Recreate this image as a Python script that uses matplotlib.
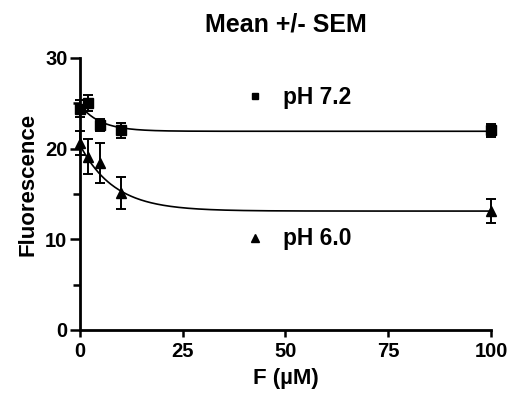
import matplotlib
matplotlib.use("Agg")
import matplotlib.pyplot as plt
import numpy as np
from matplotlib.ticker import MultipleLocator

plt.rcParams['font.family'] = ['Liberation Sans', 'DejaVu Sans']

# ── Data ──────────────────────────────────────────────────────────────────────
conc = [0, 2, 5, 10, 100]

ph72_mean = [24.4, 25.0, 22.6, 22.0, 22.0]
ph72_sem  = [0.9, 0.9, 0.7, 0.8, 0.75]

ph60_mean = [20.6, 19.1, 18.4, 15.1, 13.1]
ph60_sem  = [1.3, 1.9, 2.2, 1.8, 1.3]

# one-phase exponential decay fits: (Y0, plateau, K)
fit72 = (24.8, 21.9, 0.20)
fit60 = (20.4, 13.1, 0.12)

# ── Figure ────────────────────────────────────────────────────────────────────
fig = plt.figure(figsize=(5.19, 3.96), dpi=100)
ax = fig.add_axes([0.154, 0.167, 0.792, 0.687])

xs = np.linspace(0, 100, 400)
for y0, plat, k in (fit72, fit60):
    ax.plot(xs, plat + (y0 - plat) * np.exp(-k * xs), color="black", lw=1.2,
            clip_on=False, zorder=2)

ax.errorbar(conc, ph72_mean, yerr=ph72_sem, fmt="s", color="black", ms=6.5,
            ecolor="black", elinewidth=1.4, capsize=3.7, capthick=1.4,
            clip_on=False, zorder=3)
ax.errorbar(conc, ph60_mean, yerr=ph60_sem, fmt="^", color="black", ms=7,
            ecolor="black", elinewidth=1.4, capsize=3.7, capthick=1.4,
            clip_on=False, zorder=3)

# in-plot labels
ax.plot([42.6], [25.75], "s", color="black", ms=5, clip_on=False)
ax.text(49.3, 25.6, "pH 7.2", fontsize=16.4, fontweight="bold", va="center")
ax.plot([42.6], [10.15], "^", color="black", ms=5.5, clip_on=False)
ax.text(49.3, 10.05, "pH 6.0", fontsize=16.4, fontweight="bold", va="center")

ax.set_xlim(0, 100)
ax.set_ylim(0, 30)
ax.set_xticks([0, 25, 50, 75, 100])
ax.set_yticks([0, 10, 20, 30])
ax.yaxis.set_minor_locator(MultipleLocator(5))

for s in ("top", "right"):
    ax.spines[s].set_visible(False)
for s in ("left", "bottom"):
    ax.spines[s].set_linewidth(2)

ax.tick_params(which="both", direction="out", width=1.8)
ax.tick_params(axis="y", which="major", length=7, pad=2)
ax.tick_params(axis="y", which="minor", length=5)
ax.tick_params(axis="x", which="major", length=5, pad=4)
ax.tick_params(axis="both", labelsize=14.5)
for lbl in ax.get_xticklabels() + ax.get_yticklabels():
    lbl.set_fontweight("bold")

ax.set_xlabel("F (µM)", fontsize=16, fontweight="bold", labelpad=5)
ax.set_ylabel("Fluorescence", fontsize=16, fontweight="bold")
ax.yaxis.set_label_coords(-0.10, 0.535)
ax.set_title("Mean +/- SEM", fontsize=18, fontweight="bold", pad=19)

fig.savefig("out.png", dpi=100)
